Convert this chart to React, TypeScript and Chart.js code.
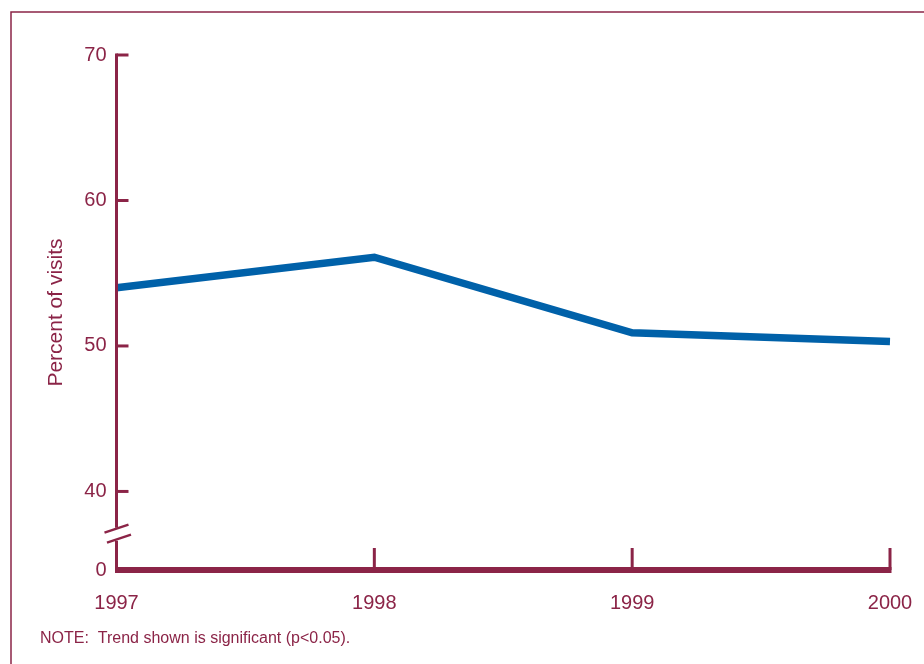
import { useEffect, useRef } from "react";
import { Chart, registerables } from "chart.js";

Chart.register(...registerables);

const years = ["1997", "1998", "1999", "2000"];
const percentOfVisits = [54.0, 56.1, 50.9, 50.3];
const yTickValues = [40, 50, 60, 70];
const yFloorValue = 34.6; // shown as "0" below the axis break
const yFloorLabel = "0";
const yBreakValue = 37.1;
const yTitle = "Percent of visits";
const noteText = "NOTE:  Trend shown is significant (p<0.05).";

const MAROON = "#8b2447";
const BLUE = "#0061a9";
const FONT = "'Liberation Sans', Arial, Helvetica, sans-serif";

export default function App() {
  const ref = useRef<HTMLCanvasElement>(null);

  useEffect(() => {
    const canvas = ref.current;
    if (!canvas) return;

    const decor = {
      id: "decor",
      beforeDraw(chart: any) {
        const ctx = chart.ctx;
        ctx.save();
        ctx.fillStyle = "#ffffff";
        ctx.fillRect(0, 0, chart.width, chart.height);
        ctx.strokeStyle = MAROON;
        ctx.lineWidth = 1.5;
        ctx.beginPath();
        ctx.moveTo(11, chart.height);
        ctx.lineTo(11, 12);
        ctx.lineTo(chart.width, 12);
        ctx.stroke();
        ctx.restore();
      },
      afterDatasetsDraw(chart: any) {
        const { ctx, chartArea } = chart;
        const xs = chart.scales.x;
        const ys = chart.scales.y;
        const ax = chartArea.left;
        const bottom = chartArea.bottom;
        ctx.save();
        ctx.strokeStyle = MAROON;
        ctx.lineCap = "butt";

        // y ticks (pointing inward)
        ctx.lineWidth = 3;
        yTickValues.forEach((v) => {
          const py = ys.getPixelForValue(v);
          ctx.beginPath();
          ctx.moveTo(ax, py);
          ctx.lineTo(ax + 12, py);
          ctx.stroke();
        });

        // y axis with break
        const by = ys.getPixelForValue(yBreakValue);
        const topY = ys.getPixelForValue(yTickValues[yTickValues.length - 1]) - 1.5;
        ctx.beginPath();
        ctx.moveTo(ax, topY);
        ctx.lineTo(ax, by - 6);
        ctx.moveTo(ax, by + 7);
        ctx.lineTo(ax, bottom);
        ctx.stroke();

        // break marks
        ctx.lineWidth = 2.5;
        [
          [0, -5],
          [2.5, 5],
        ].forEach(([dx, dy]) => {
          ctx.beginPath();
          ctx.moveTo(ax + dx - 12, by + dy + 4);
          ctx.lineTo(ax + dx + 12, by + dy - 4);
          ctx.stroke();
        });

        // x ticks (pointing up)
        ctx.lineWidth = 3;
        years.forEach((_, i) => {
          if (i === 0) return;
          const px = xs.getPixelForValue(i);
          ctx.beginPath();
          ctx.moveTo(px, bottom);
          ctx.lineTo(px, bottom - 22);
          ctx.stroke();
        });

        // x axis
        ctx.lineWidth = 6;
        ctx.beginPath();
        ctx.moveTo(ax - 1.5, bottom);
        ctx.lineTo(xs.getPixelForValue(years.length - 1) + 1.5, bottom);
        ctx.stroke();

        // note
        ctx.fillStyle = MAROON;
        ctx.font = `16px ${FONT}`;
        ctx.textBaseline = "middle";
        ctx.textAlign = "left";
        ctx.fillText(noteText, 40, 639);
        ctx.restore();
      },
    };

    const chart = new Chart(canvas, {
      type: "line",
      data: {
        labels: years,
        datasets: [
          {
            data: percentOfVisits,
            borderColor: BLUE,
            borderWidth: 7.5,
            pointRadius: 0,
            pointHoverRadius: 0,
            tension: 0,
            fill: false,
            borderJoinStyle: "miter",
            borderCapStyle: "butt",
            clip: false as any,
          },
        ],
      },
      options: {
        responsive: false,
        animation: false,
        events: [],
        layout: { padding: { left: 10, right: 34, top: 55, bottom: 0 } },
        plugins: {
          legend: { display: false },
          tooltip: { enabled: false },
        },
        scales: {
          x: {
            type: "category",
            offset: false,
            grid: { display: false, drawTicks: false },
            border: { display: false },
            ticks: {
              color: MAROON,
              font: { family: FONT, size: 20 },
              padding: 21,
              maxRotation: 0,
              autoSkip: false,
            },
            afterFit(scale: any) {
              scale.height = 94;
              scale.paddingLeft = 0;
              scale.paddingRight = 0;
            },
          },
          y: {
            type: "linear",
            min: yFloorValue,
            max: yTickValues[yTickValues.length - 1],
            grid: { display: false, drawTicks: false },
            border: { display: false },
            afterBuildTicks(scale: any) {
              scale.ticks = [yFloorValue, ...yTickValues].map((v) => ({ value: v }));
            },
            ticks: {
              color: MAROON,
              font: { family: FONT, size: 20 },
              padding: 10,
              callback: (v: any) => (v === yFloorValue ? yFloorLabel : String(v)),
            },
            title: {
              display: true,
              text: yTitle,
              color: MAROON,
              font: { family: FONT, size: 21 },
              padding: { top: 34, bottom: 0 },
            },
            afterFit(scale: any) {
              scale.width = 106.5;
              scale.paddingTop = 0;
              scale.paddingBottom = 0;
            },
          },
        },
      },
      plugins: [decor],
    });

    return () => chart.destroy();
  }, []);

  return (
    <div style={{ position: "absolute", left: 0, top: 0, width: 924, height: 664 }}>
      <canvas ref={ref} width={924} height={664} style={{ display: "block" }} />
    </div>
  );
}
